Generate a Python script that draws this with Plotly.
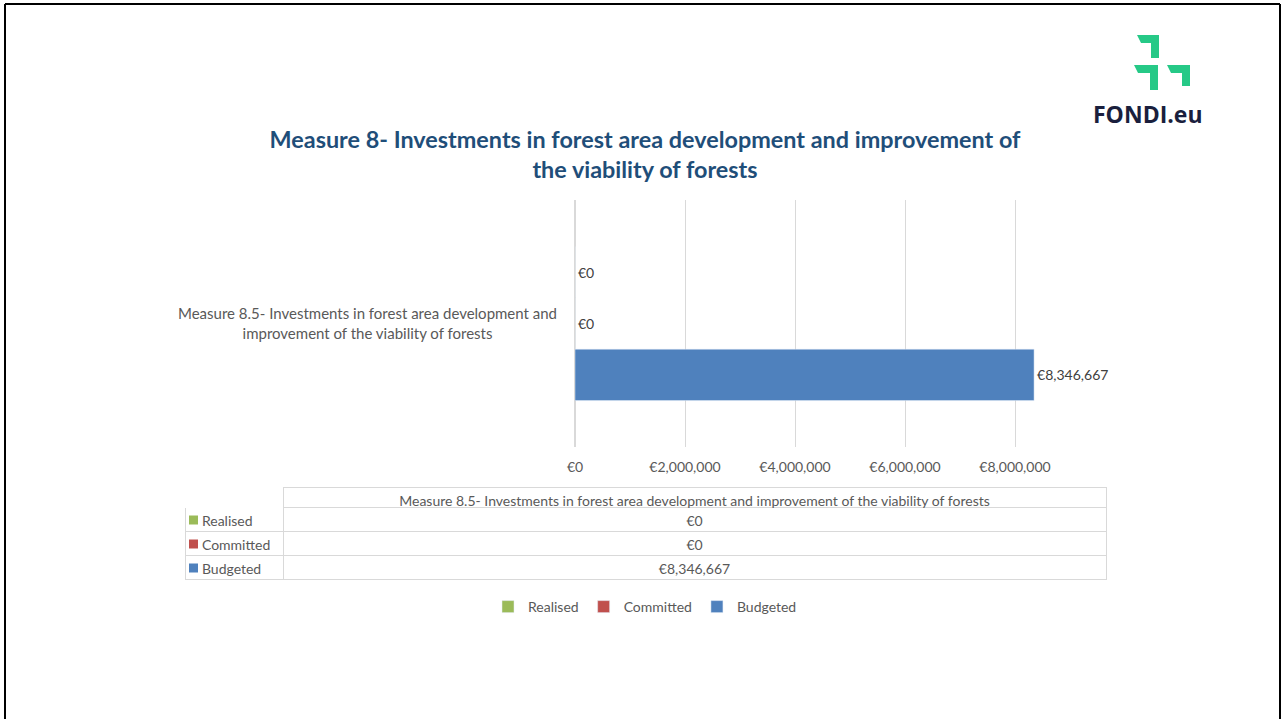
import plotly.graph_objects as go

W, H = 1282, 719

# data
category = 'Measure 8.5- Investments in forest area development and improvement of the viability of forests'
category_label = 'Measure 8.5- Investments in forest area development and<br>improvement of the viability of forests'
series = ['Realised', 'Committed', 'Budgeted']
values = [0, 0, 8346667]
colors = ['#9BBB59', '#C0504D', '#4F81BD']
x_ticks = [0, 2000000, 4000000, 6000000, 8000000]

FONT = 'Lato'
GREY = '#595959'


def px(x):
    return x / W


def py(y):
    return 1 - y / H


fig = go.Figure()

# plotly stacks horizontal groups bottom-up, so add in reverse
for name, val, col in reversed(list(zip(series, values, colors))):
    fig.add_trace(go.Bar(
        name=name,
        y=[category],
        x=[val],
        orientation='h',
        marker_color=col,
        texttemplate='€%{x:,.0f}',
        textposition='outside',
        textfont={'size': 14, 'color': '#404040', 'family': FONT},
        cliponaxis=False,
    ))

# data table under the chart
row_labels = ['\u00a0\u00a0\u2009' + s for s in series]
row_values = [f'€{v:,.0f}' for v in values]
fig.add_trace(go.Table(
    domain={'x': [px(185), px(1106)], 'y': [py(580), py(487)]},
    columnwidth=[98, 823],
    header={
        'values': ['', category],
        'height': 20,
        'align': 'center',
        'fill_color': 'white',
        'line_color': ['white', '#D9D9D9'],
        'font': {'size': 14, 'color': GREY, 'family': FONT},
    },
    cells={
        'values': [row_labels, row_values],
        'height': 24,
        'align': ['left', 'center'],
        'fill_color': 'white',
        'line_color': '#D9D9D9',
        'font': {'size': 14, 'color': GREY, 'family': FONT},
    },
))

shapes = []

# colour keys in the table's first column
for i, col in enumerate(colors):
    yc = 520 + 24 * i
    shapes.append(dict(type='rect', xref='paper', yref='paper',
                       x0=px(189), x1=px(198), y0=py(yc + 4.5), y1=py(yc - 4.5),
                       fillcolor=col, line_width=0))

# logo: green chevrons
green = '#26C987'
logo_paths = [
    [(1137, 35), (1159, 35), (1159, 58), (1151, 58), (1151, 43), (1141, 43)],
    [(1134, 65), (1158, 65), (1158, 90), (1150, 90), (1150, 73), (1138, 73)],
    [(1167, 65), (1190, 65), (1190, 86), (1182, 86), (1182, 73), (1171, 73)],
]
for pts in logo_paths:
    d = 'M ' + ' L '.join(f'{px(x):.5f},{py(y):.5f}' for x, y in pts) + ' Z'
    shapes.append(dict(type='path', xref='paper', yref='paper', path=d,
                       fillcolor=green, line_width=0))

# slide frame
frame = '#000000'
shapes += [
    dict(type='line', xref='paper', yref='paper', x0=px(5), x1=px(5), y0=0, y1=py(4),
         line={'color': frame, 'width': 2}),
    dict(type='line', xref='paper', yref='paper', x0=px(5), x1=px(1280), y0=py(4), y1=py(4),
         line={'color': frame, 'width': 2}),
    dict(type='line', xref='paper', yref='paper', x0=px(1280), x1=px(1280), y0=0, y1=py(4),
         line={'color': frame, 'width': 2}),
]

annotations = [
    dict(text='<b>FONDI.eu</b>', x=px(1148), y=py(114), xref='paper', yref='paper',
         xanchor='center', yanchor='middle', showarrow=False,
         font={'size': 23, 'color': '#1A1F3D', 'family': 'Open Sans', 'weight': 800}),
    dict(text=category_label, x=px(367), y=py(323), xref='paper', yref='paper',
         xanchor='center', yanchor='middle', showarrow=False, align='center',
         font={'size': 15, 'color': GREY, 'family': FONT}),
]

fig.update_layout(
    width=W, height=H, autosize=False,
    margin={'l': 0, 'r': 0, 't': 0, 'b': 0, 'pad': 0, 'autoexpand': False},
    paper_bgcolor='white', plot_bgcolor='white',
    font_family=FONT,
    title={
        'text': '<b>Measure 8- Investments in forest area development and improvement of<br>the viability of forests</b>',
        'x': px(645), 'xanchor': 'center',
        'y': py(148), 'yanchor': 'middle',
        'font': {'size': 23.4, 'color': '#1F4E79', 'family': FONT},
    },
    barmode='group',
    bargap=0.376,
    bargroupgap=0,
    xaxis={
        'domain': [px(575), px(1050)],
        'range': [0, 475 / 55 * 1e6],
        'tickvals': x_ticks,
        'ticktext': [f'€{t:,}' for t in x_ticks],
        'showgrid': True, 'gridcolor': '#D9D9D9',
        'zeroline': True, 'zerolinecolor': '#D9D9D9',
        'showline': False,
        'ticklabelstandoff': 10,
        'tickfont': {'size': 14, 'color': GREY, 'family': FONT},
        'fixedrange': True,
    },
    yaxis={
        'domain': [py(447), py(200)],
        'showticklabels': False,
        'showgrid': False,
        'showline': False,
        'fixedrange': True,
    },
    showlegend=True,
    legend={
        'orientation': 'h',
        'x': px(645), 'xanchor': 'center',
        'y': py(607), 'yanchor': 'middle',
        'traceorder': 'reversed',
        'font': {'size': 14, 'color': GREY, 'family': FONT},
        'itemwidth': 30,
    },
    shapes=shapes,
    annotations=annotations,
)

fig.write_html('out.html', config={'displayModeBar': False, 'responsive': False})

# pin the figure to the window's top-left corner
with open('out.html', encoding='utf-8') as f:
    page = f.read()
css = ('<style>html,body{margin:0;padding:0;overflow:hidden}'
       '.plotly-graph-div{position:absolute;left:0;top:0}</style>')
page = page.replace('<head>', '<head>' + css, 1)
with open('out.html', 'w', encoding='utf-8') as f:
    f.write(page)
